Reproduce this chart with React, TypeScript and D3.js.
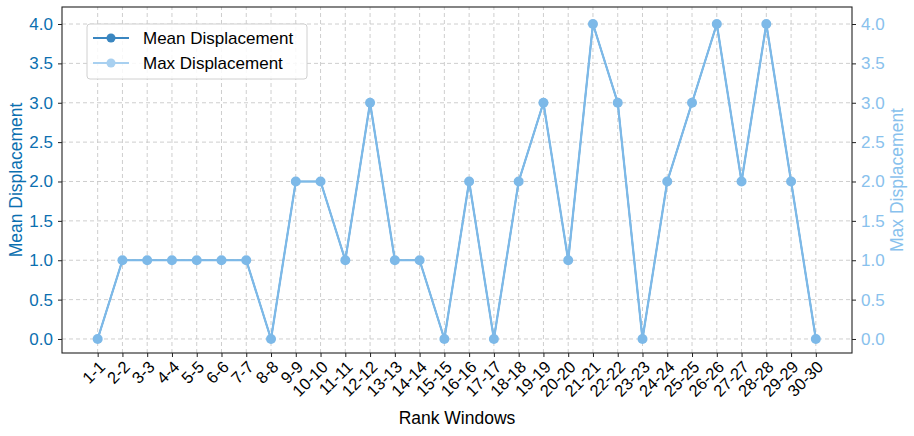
import * as d3 from "d3";
import React, { useEffect, useRef } from "react";

const windows = [
  "1-1", "2-2", "3-3", "4-4", "5-5", "6-6", "7-7", "8-8", "9-9", "10-10",
  "11-11", "12-12", "13-13", "14-14", "15-15", "16-16", "17-17", "18-18", "19-19", "20-20",
  "21-21", "22-22", "23-23", "24-24", "25-25", "26-26", "27-27", "28-28", "29-29", "30-30",
];
const meanDisp = [0, 1, 1, 1, 1, 1, 1, 0, 2, 2, 1, 3, 1, 1, 0, 2, 0, 2, 3, 1, 4, 3, 0, 2, 3, 4, 2, 4, 2, 0];
const maxDisp = [0, 1, 1, 1, 1, 1, 1, 0, 2, 2, 1, 3, 1, 1, 0, 2, 0, 2, 3, 1, 4, 3, 0, 2, 3, 4, 2, 4, 2, 0];
const yTicks = [0, 0.5, 1, 1.5, 2, 2.5, 3, 3.5, 4];

const meanColor = "#0b6fb0";
const maxColor = "#88c1ed";
const lineColor = "#7db9e8";
const font = "'Liberation Sans', Arial, sans-serif";

export default function App() {
  const svgRef = useRef<SVGSVGElement>(null);

  useEffect(() => {
    const svg = d3.select(svgRef.current);
    svg.selectAll("*").remove();
    const width = 914;
    const height = 436;
    const m = { top: 7, right: 62, bottom: 83, left: 62 };
    const x0 = m.left;
    const x1 = width - m.right;
    const y0 = height - m.bottom;
    const y1 = m.top;

    const x = d3.scaleLinear().domain([-1.44, windows.length - 1 + 1.46]).range([x0, x1]);
    const y = d3.scaleLinear().domain([-0.178, 4.216]).range([y0, y1]);

    // grid
    const grid = svg.append("g").attr("stroke", "#c8c8c8").attr("stroke-dasharray", "4,3").attr("stroke-width", 0.9);
    windows.forEach((_, i) => {
      grid.append("line").attr("x1", x(i)).attr("x2", x(i)).attr("y1", y0).attr("y2", y1);
    });
    yTicks.forEach((t) => {
      grid.append("line").attr("x1", x0).attr("x2", x1).attr("y1", y(t)).attr("y2", y(t));
    });

    // x axis
    const xa = svg.append("g").attr("transform", `translate(0,${y0})`)
      .call(d3.axisBottom(x).tickValues(d3.range(windows.length)).tickFormat((d) => windows[d as number]).tickSize(4).tickSizeOuter(0));
    xa.select(".domain").remove();
    xa.selectAll("line").attr("stroke", "#222");
    xa.selectAll("text")
      .attr("font-family", font).attr("font-size", 16.5).attr("fill", "#000")
      .attr("text-anchor", "end").attr("dy", null).attr("y", null)
      .attr("transform", "translate(8,15) rotate(-45)");

    // left axis
    const ya = svg.append("g").attr("transform", `translate(${x0},0)`)
      .call(d3.axisLeft(y).tickValues(yTicks).tickFormat(d3.format(".1f")).tickSize(4).tickPadding(5));
    ya.select(".domain").remove();
    ya.selectAll("line").attr("stroke", "#222");
    ya.selectAll("text").attr("font-family", font).attr("font-size", 17).attr("fill", meanColor);

    // right axis
    const yb = svg.append("g").attr("transform", `translate(${x1},0)`)
      .call(d3.axisRight(y).tickValues(yTicks).tickFormat(d3.format(".1f")).tickSize(4).tickPadding(5));
    yb.select(".domain").remove();
    yb.selectAll("line").attr("stroke", "#222");
    yb.selectAll("text").attr("font-family", font).attr("font-size", 17).attr("fill", maxColor);

    svg.append("rect").attr("x", x0).attr("y", y1).attr("width", x1 - x0).attr("height", y0 - y1)
      .attr("fill", "none").attr("stroke", "#222").attr("stroke-width", 1.1);

    const line = d3.line<number>().x((_, i) => x(i)).y((d) => y(d));
    // mean series underneath
    const under = svg.append("g").attr("opacity", 0.8);
    under.append("path").datum(meanDisp).attr("d", line).attr("fill", "none").attr("stroke", meanColor).attr("stroke-width", 1.6);
    under.selectAll("circle").data(meanDisp).join("circle")
      .attr("cx", (_, i) => x(i)).attr("cy", (d) => y(d)).attr("r", 4).attr("fill", meanColor);
    // max series on top
    const top = svg.append("g");
    top.append("path").datum(maxDisp).attr("d", line).attr("fill", "none").attr("stroke", lineColor).attr("stroke-width", 2.2);
    top.selectAll("circle").data(maxDisp).join("circle")
      .attr("cx", (_, i) => x(i)).attr("cy", (d) => y(d)).attr("r", 5).attr("fill", lineColor);

    // axis labels
    svg.append("text").attr("x", (x0 + x1) / 2).attr("y", 424).attr("text-anchor", "middle")
      .attr("font-family", font).attr("font-size", 17.5).text("Rank Windows");
    svg.append("text").attr("transform", `translate(22,${(y0 + y1) / 2}) rotate(-90)`).attr("text-anchor", "middle")
      .attr("font-family", font).attr("font-size", 17.5).attr("fill", meanColor).text("Mean Displacement");
    svg.append("text").attr("transform", `translate(903,${(y0 + y1) / 2}) rotate(-90)`).attr("text-anchor", "middle")
      .attr("font-family", font).attr("font-size", 17.5).attr("fill", maxColor).text("Max Displacement");

    // legend
    const lg = svg.append("g").attr("transform", "translate(87,24)");
    lg.append("rect").attr("width", 220).attr("height", 55).attr("rx", 3).attr("fill", "#fff").attr("fill-opacity", 0.85)
      .attr("stroke", "#d0d0d0");
    const items: [string, string][] = [["Mean Displacement", "#3a86c0"], ["Max Displacement", "#a8d0f0"]];
    items.forEach(([label, c], i) => {
      const yy = 14 + i * 25;
      lg.append("line").attr("x1", 6).attr("x2", 42).attr("y1", yy).attr("y2", yy).attr("stroke", c).attr("stroke-width", 2);
      lg.append("circle").attr("cx", 24).attr("cy", yy).attr("r", 4.5).attr("fill", c);
      lg.append("text").attr("x", 56).attr("y", yy).attr("dy", "0.35em").attr("font-family", font).attr("font-size", 17)
        .attr("fill", "#000").text(label);
    });
  }, []);

  return (
    <svg ref={svgRef} width={914} height={436} style={{ display: "block", position: "absolute", left: 0, top: 0 }} />
  );
}
